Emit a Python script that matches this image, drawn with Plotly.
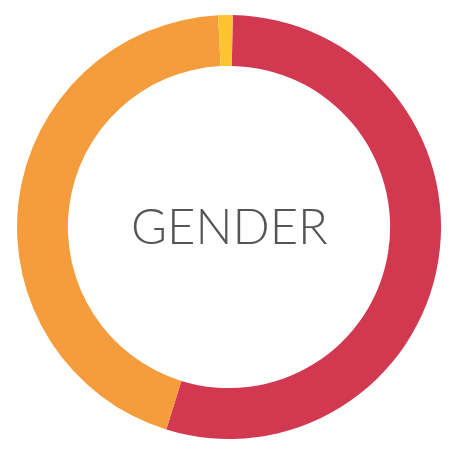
import plotly.graph_objects as go

labels = ['Male', 'Female', 'Other']
values = [54.5, 44.4, 1.1]
colors = ['#D2384F', '#F59D3D', '#FCC530']

fig = go.Figure()
fig.add_trace(go.Pie(
    labels=labels,
    values=values,
    hole=0.76,
    sort=False,
    direction='clockwise',
    rotation=1,
    marker=dict(colors=colors, line=dict(width=0)),
    textinfo='none',
    hoverinfo='label+percent',
))
fig.add_annotation(
    text='GENDER', x=0.5, y=0.5, xref='paper', yref='paper',
    showarrow=False, yshift=2,
    font=dict(family='Lato', size=49, color='#555555', weight=300),
)
# the page body adds 8px, so margins are shifted to keep the ring in place
fig.update_layout(
    width=459, height=455,
    margin=dict(l=9, r=26, t=7, b=24),
    showlegend=False,
    paper_bgcolor='white',
)
fig.write_html('out.html')
